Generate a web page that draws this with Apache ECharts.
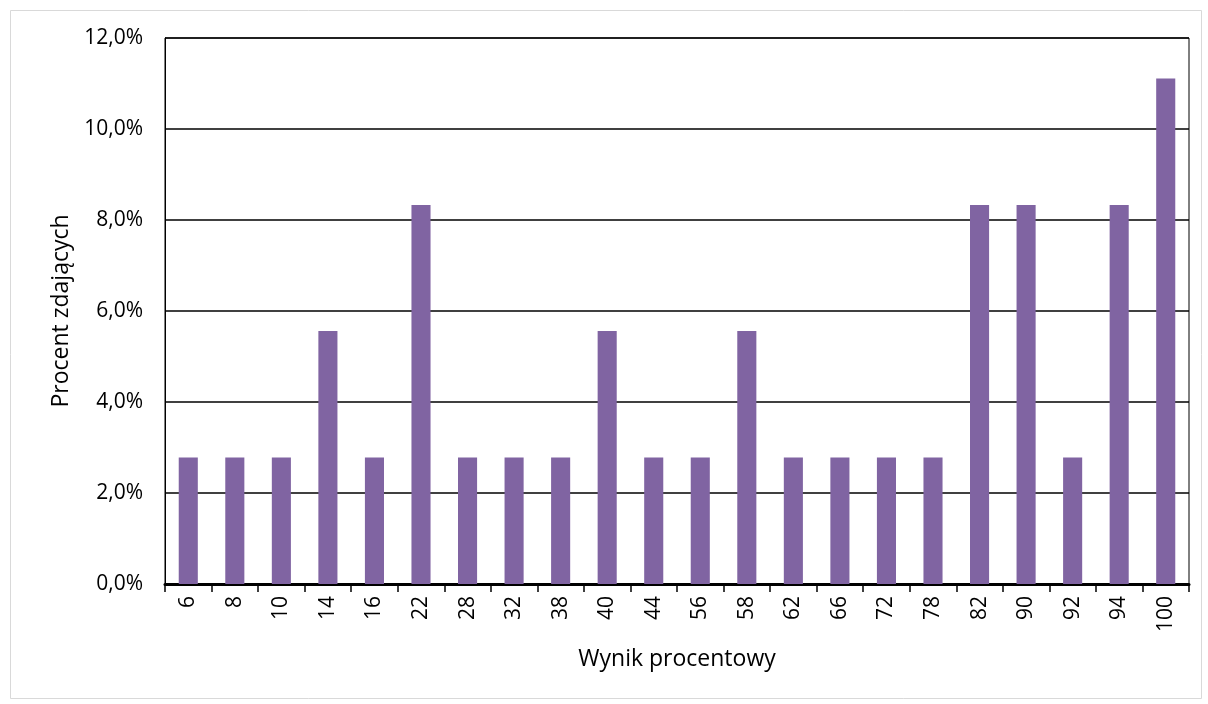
<!DOCTYPE html>
<html>
<head>
<meta charset="utf-8">
<script src="https://cdn.jsdelivr.net/npm/echarts@6/dist/echarts.min.js"></script>
<style>html,body{margin:0;padding:0;background:#fff}#c{width:1208px;height:704px}</style>
</head>
<body>
<div id="c"></div>
<script>
const categories = ['6','8','10','14','16','22','28','32','38','40','44','56','58','62','66','72','78','82','90','92','94','100'];
const percentValues = [2.78,2.78,2.78,5.56,2.78,8.33,2.78,2.78,2.78,5.56,2.78,2.78,5.56,2.78,2.78,2.78,2.78,8.33,8.33,2.78,8.33,11.11];
const yTicks = [0,2,4,6,8,10,12];
const xTitle = 'Wynik procentowy';
const yTitle = 'Procent zdających';

const chart = echarts.init(document.getElementById('c'));
const font = 'Open Sans';
chart.setOption({
  animation: false,
  backgroundColor: '#fff',
  graphic: [{
    type: 'rect', left: 8, top: 8, shape: {width: 1191, height: 688},
    style: {fill: 'none', stroke: '#d9d9d9', lineWidth: 1}, z: -10
  }],
  grid: {left: 165, right: 19, top: 38, bottom: 120, show: true, borderColor: '#000', borderWidth: 1, backgroundColor: 'transparent'},
  xAxis: {
    type: 'category', data: categories,
    name: xTitle, nameLocation: 'middle', nameGap: 64,
    nameTextStyle: {fontFamily: font, fontSize: 23, color: '#000'},
    axisLine: {lineStyle: {color: '#000', width: 3}},
    axisTick: {show: true, alignWithLabel: false, length: 8, lineStyle: {color: '#000', width: 1.5}},
    axisLabel: {rotate: 90, fontFamily: font, fontSize: 21, color: '#000', margin: 12},
    splitLine: {show: false}
  },
  yAxis: {
    type: 'value', min: yTicks[0], max: yTicks[yTicks.length-1], interval: 2,
    name: yTitle, nameLocation: 'middle', nameGap: 90, nameRotate: 90,
    nameTextStyle: {fontFamily: font, fontSize: 23, color: '#000'},
    axisLine: {show: true, lineStyle: {color: '#000', width: 1}},
    axisTick: {show: false},
    axisLabel: {fontFamily: font, fontSize: 21, color: '#000', margin: 22,
      formatter: v => v.toFixed(1).replace('.', ',') + '%'},
    splitLine: {show: true, lineStyle: {color: '#000', width: 1.5}}
  },
  series: [{
    type: 'bar', data: percentValues, barWidth: '41%',
    itemStyle: {color: '#8064A2'}, z: 3
  }]
});
</script>
</body>
</html>
